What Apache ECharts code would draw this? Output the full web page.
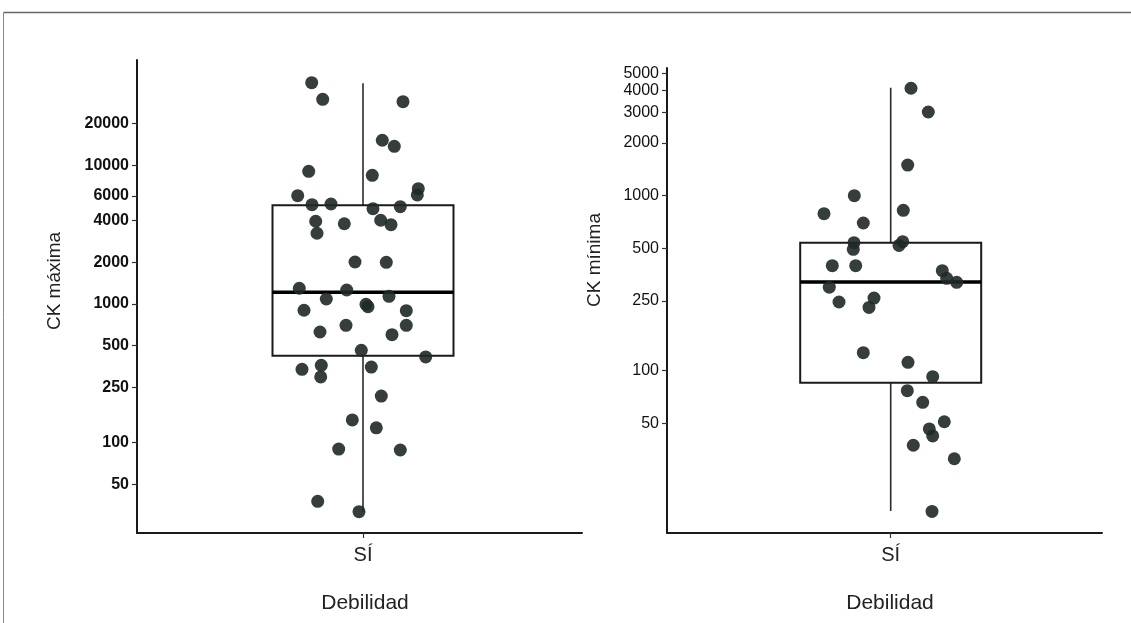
<!DOCTYPE html>
<html>
<head>
<meta charset="utf-8">
<script src="https://cdn.jsdelivr.net/npm/echarts@6/dist/echarts.min.js"></script>
<style>
html,body{margin:0;padding:0;background:#fff;}
#c{width:1131px;height:623px;}
</style>
</head>
<body>
<div id="c"></div>
<script>
// ---- data ----
const category = 'SÍ';
const xTitle = 'Debilidad';
const leftTitle = 'CK máxima';
const rightTitle = 'CK mínima';
const leftTicks = [50, 100, 250, 500, 1000, 2000, 4000, 6000, 10000, 20000];
const rightTicks = [50, 100, 250, 500, 1000, 2000, 3000, 4000, 5000];
// [lower whisker, Q1, median, Q3, upper whisker]
const leftBox = [31.8, 424, 1214, 5150, 39000];
const rightBox = [15.8, 85.4, 321, 539, 4140];
// CK máxima values (jittered points)
const leftValues = [39400, 29900, 28750, 15150, 13700, 9050, 8470, 6780, 6110, 6040,
  5200, 5260, 4865, 5030, 3950, 3790, 4015, 3730, 3235, 2008,
  1998, 1298, 1262, 1086, 1136, 995, 956, 901, 895, 702,
  702, 628, 601, 464, 415, 338, 361, 298, 351, 217,
  146, 128, 90, 88.6, 37.8, 31.8];
// horizontal jitter of each point (offset from category centre)
const leftJitter = [-0.513, -0.403, 0.40, 0.193, 0.313, -0.543, 0.093, 0.553, 0.543, -0.653,
  -0.51, -0.32, 0.10, 0.373, -0.473, -0.187, 0.177, 0.28, -0.46, -0.08,
  0.233, -0.637, -0.163, -0.367, 0.26, 0.03, 0.05, -0.59, 0.433, -0.17,
  0.433, -0.43, 0.29, -0.017, 0.627, -0.61, -0.417, -0.423, 0.083, 0.183,
  -0.107, 0.133, -0.243, 0.373, -0.453, -0.04];
// CK mínima values
const rightValues = [4110, 3007, 1497, 1000, 789, 825, 698, 539, 494, 546,
  520, 398, 398, 373, 337, 320, 300, 247, 260, 230,
  126.8, 111.7, 92.4, 76.9, 66, 51.1, 46.5, 42.4, 37.5, 31.4, 15.7];
const rightJitter = [0.203, 0.376, 0.17, -0.364, -0.667, 0.126, -0.274, -0.367, -0.374, 0.12,
  0.083, -0.584, -0.35, 0.516, 0.56, 0.66, -0.614, -0.517, -0.167, -0.217,
  -0.274, 0.173, 0.42, 0.166, 0.32, 0.536, 0.386, 0.42, 0.226, 0.636, 0.413];

// ---- helpers ----
const L = v => Math.log10(v);
const fmt = v => String(Math.round(Math.pow(10, v)));
const FONT = '"Liberation Sans", Arial, sans-serif';
const INK = '#1a1a1a';

function panelSeries(i, box, values, jitter) {
  return [
    { type: 'line', xAxisIndex: i, yAxisIndex: i, z: 1, symbol: 'none', silent: true,
      lineStyle: { color: '#2a2a2a', width: 1.6 },
      data: [[0, L(box[0])], [0, L(box[4])]] },
    { type: 'boxplot', xAxisIndex: i, yAxisIndex: i, z: 2, silent: true,
      boxWidth: [181, 181],
      itemStyle: { color: '#ffffff', borderColor: INK, borderWidth: 2 },
      data: [
        { value: [0, L(box[1]), L(box[1]), L(box[2]), L(box[3]), L(box[3])] },
        { value: [0, L(box[2]), L(box[2]), L(box[2]), L(box[2]), L(box[2])],
          itemStyle: { color: 'none', borderColor: '#000', borderWidth: 3.5 } }
      ] },
    { type: 'scatter', xAxisIndex: i, yAxisIndex: i, z: 4, silent: true,
      symbolSize: 13, itemStyle: { color: '#1f2928', opacity: 0.9 },
      data: jitter.map((x, k) => [x, L(values[k])]) }
  ];
}

function xAxis(i, min, max) {
  return {
    type: 'value', gridIndex: i, min: min, max: max,
    axisLine: { show: true, onZero: false, lineStyle: { color: INK, width: 2 } },
    axisTick: { show: true, length: 5, customValues: [0], lineStyle: { color: '#333', width: 1.2 } },
    axisLabel: { customValues: [0], formatter: () => category, margin: 12,
      fontSize: 20, color: '#222', fontFamily: FONT },
    splitLine: { show: false },
    name: xTitle, nameLocation: 'middle', nameGap: 60,
    nameTextStyle: { fontSize: 21, color: '#222', fontFamily: FONT, padding: [0, 0, 0, 11] }
  };
}

function yAxis(i, min, max, ticks, bold) {
  return {
    type: 'value', gridIndex: i, min: min, max: max,
    axisLine: { show: true, onZero: false, lineStyle: { color: INK, width: 2 } },
    axisTick: { show: true, length: 5, customValues: ticks.map(L), lineStyle: { color: '#333', width: 1.2 } },
    axisLabel: { customValues: ticks.map(L), formatter: fmt, margin: 8,
      fontSize: 16, fontWeight: bold ? 'bold' : 'normal', color: '#111', fontFamily: FONT },
    splitLine: { show: false }
  };
}

const chart = echarts.init(document.getElementById('c'), null, { renderer: 'canvas' });
chart.setOption({
  animation: false,
  backgroundColor: '#ffffff',
  textStyle: { fontFamily: FONT },
  grid: [
    { left: 137, top: 60, width: 445, height: 473 },
    { left: 667, top: 68, width: 435, height: 465 }
  ],
  xAxis: [xAxis(0, -2.26, 2.19), xAxis(1, -2.237, 2.113)],
  yAxis: [yAxis(0, 1.349, 4.759, leftTicks, true), yAxis(1, 1.0726, 3.7297, rightTicks, false)],
  series: [].concat(
    panelSeries(0, leftBox, leftValues, leftJitter),
    panelSeries(1, rightBox, rightValues, rightJitter)
  ),
  graphic: [
    { type: 'line', shape: { x1: 3.5, y1: 12.5, x2: 1131, y2: 12.5 }, style: { stroke: '#666', lineWidth: 1.5 } },
    { type: 'line', shape: { x1: 3.5, y1: 12.5, x2: 3.5, y2: 623 }, style: { stroke: '#888', lineWidth: 1 } },
    { type: 'text', x: 55, y: 281, rotation: Math.PI / 2,
      style: { text: leftTitle, font: '19px ' + FONT, fill: '#222', align: 'center', verticalAlign: 'middle', textAlign: 'center', textVerticalAlign: 'middle' } },
    { type: 'text', x: 595, y: 260, rotation: Math.PI / 2,
      style: { text: rightTitle, font: '19px ' + FONT, fill: '#222', align: 'center', verticalAlign: 'middle', textAlign: 'center', textVerticalAlign: 'middle' } }
  ]
});
</script>
</body>
</html>
